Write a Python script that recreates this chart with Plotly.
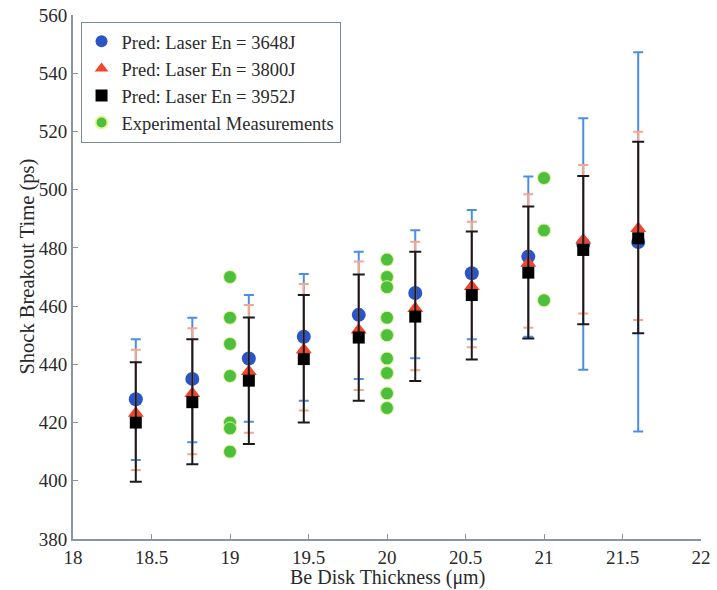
import numpy as np
import plotly.graph_objects as go

thickness = [18.4, 18.76, 19.12, 19.47, 19.82, 20.18, 20.54, 20.9, 21.25, 21.6]

blue_mean = [428, 435, 442, 449.5, 457, 464.5, 471.3, 477, 481.3, 482]
blue_upper = [448.6, 456, 463.8, 471, 478.7, 486.1, 493, 504.5, 524.5, 547.2]
blue_lower = [407.1, 413.2, 420.3, 427.5, 435, 442.1, 448.6, 449.5, 438.1, 416.9]

red_mean = [423.2, 430, 437.5, 445, 451.8, 459.2, 466.7, 474.7, 482.7, 486.7]
red_upper = [445, 452.4, 460.4, 467.6, 475.3, 482.1, 489, 498.4, 508.5, 519.9]
red_lower = [403.7, 409.1, 416.5, 424.1, 431.2, 438, 445.9, 452.6, 457.5, 455.2]

black_mean = [420, 427, 434.4, 441.8, 449.2, 456.4, 463.8, 471.5, 479.3, 483.3]
black_upper = [440.7, 448.6, 456.1, 463.8, 470.9, 478.7, 485.6, 494.2, 504.7, 516.5]
black_lower = [399.7, 405.7, 412.6, 420, 427.5, 434.3, 441.7, 448.9, 453.8, 450.7]

exp_x = [19] * 7 + [20] * 9 + [21] * 3
exp_y = [470, 456, 447, 436, 420, 418, 410,
         476, 470, 466.5, 456, 450, 442, 437, 430, 425,
         504, 486, 462]

names = ["Pred: Laser En = 3648J", "Pred: Laser En = 3800J",
         "Pred: Laser En = 3952J", "Experimental Measurements"]

x_ticks = [18, 18.5, 19, 19.5, 20, 20.5, 21, 21.5, 22]
x_ticktext = ["18", "18.5", "19", "19.5", "20", "20.5", "21", "21.5", "22"]

x_title = "Be Disk Thickness (μm)"
y_title = "Shock Breakout Time (ps)"

FONT = "Liberation Serif, Times New Roman, serif"
TXT = "#2a2a2a"
AXC = "#8a959e"

fig = go.Figure()

def pred_trace(mean, upper, lower, name, mcolor, ecolor, symbol, size, cap):
    m = np.array(mean)
    return go.Scatter(
        x=thickness, y=mean, mode="markers", name=name,
        marker=dict(color=mcolor, symbol=symbol, size=size, line=dict(width=0)),
        error_y=dict(type="data", symmetric=False,
                     array=(np.array(upper) - m).tolist(),
                     arrayminus=(m - np.array(lower)).tolist(),
                     color=ecolor, thickness=2, width=cap),
    )

fig.add_trace(pred_trace(blue_mean, blue_upper, blue_lower, names[0],
                         "#2a55c8", "#4a8ee6", "circle", 14, 5))
fig.add_trace(pred_trace(red_mean, red_upper, red_lower, names[1],
                         "#f2452a", "#f7a58c", "triangle-up", 14, 5))
fig.add_trace(pred_trace(black_mean, black_upper, black_lower, names[2],
                         "#000000", "#1a1a1a", "square", 12, 6))
fig.add_trace(go.Scatter(
    x=exp_x, y=exp_y, mode="markers", name=names[3],
    marker=dict(color="#4cbf3c", size=13, line=dict(color="#e6f59a", width=1)),
))

fig.update_layout(
    width=717, height=590,
    margin=dict(l=73, r=16, t=15, b=51),
    paper_bgcolor="white", plot_bgcolor="white",
    font=dict(family=FONT, size=19, color=TXT),
    showlegend=True,
    legend=dict(x=0.012, y=0.987, xanchor="left", yanchor="top",
                bgcolor="white", bordercolor="#7a8a96", borderwidth=1,
                font=dict(family=FONT, size=18.5, color=TXT),
                tracegroupgap=0, itemsizing="constant"),
    annotations=[
        dict(text=x_title, xref="paper", yref="paper", x=0.5, y=0,
             xanchor="center", yanchor="middle", yshift=-38, showarrow=False,
             font=dict(family=FONT, size=20, color=TXT)),
        dict(text=y_title, xref="paper", yref="paper", x=-0.0732, y=0.52,
             xanchor="center", yanchor="middle", textangle=-90, showarrow=False,
             font=dict(family=FONT, size=20.5, color=TXT)),
    ],
)
fig.update_xaxes(range=[18, 22], tickvals=x_ticks, ticktext=x_ticktext,
                 automargin=False, ticklabeloverflow="allow",
                 showgrid=False, zeroline=False, showline=True, linecolor=AXC,
                 linewidth=2, ticks="inside", ticklen=5, tickcolor=AXC,
                 tickfont=dict(family=FONT, size=19, color=TXT))
fig.update_yaxes(range=[380, 560], dtick=20, automargin=False,
                 ticklabeloverflow="allow",
                 showgrid=False, zeroline=False, showline=True, linecolor=AXC,
                 linewidth=2, ticks="inside", ticklen=5, tickcolor=AXC,
                 tickfont=dict(family=FONT, size=19, color=TXT))

# remove the default 8px body margin so the 717x590 figure fills the window
fig.write_html("out.html", config={"displayModeBar": False},
               post_script="document.body.style.margin='0px';")
